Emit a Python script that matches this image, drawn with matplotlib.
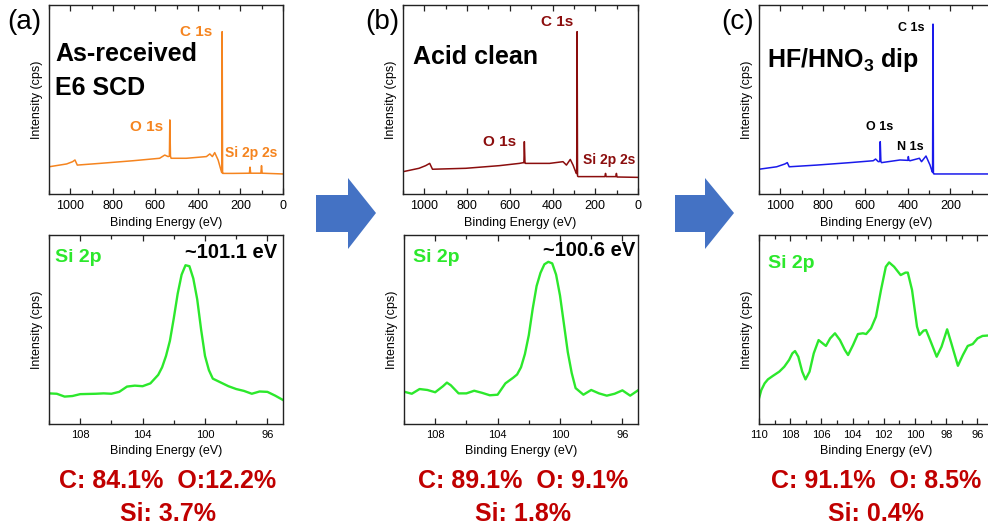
import matplotlib
matplotlib.use("Agg")
import matplotlib.pyplot as plt
from matplotlib.patches import Polygon
from matplotlib.ticker import MultipleLocator, FixedLocator

plt.rcParams['font.family'] = ['Liberation Sans', 'DejaVu Sans']
plt.rcParams['mathtext.fontset'] = 'custom'
plt.rcParams['mathtext.rm'] = 'Liberation Sans'
plt.rcParams['mathtext.bf'] = 'Liberation Sans:bold'

W, H = 988, 529

# ---------------- survey spectra (binding energy eV, normalised counts) ----------------
survey_a_be = [1100, 1017, 989, 978, 967, 861, 705, 580, 556, 540, 534, 532, 529, 526,
               454, 360, 344, 332, 321, 305, 294, 288, 286, 284, 283, 235, 158, 155, 152,
               104, 101, 98, 0]
survey_a_int = [0.144, 0.159, 0.171, 0.180, 0.153, 0.162, 0.176, 0.189, 0.206, 0.198, 0.200,
                0.392, 0.200, 0.189, 0.189, 0.198, 0.212, 0.198, 0.219, 0.180, 0.136, 0.113,
                0.859, 0.113, 0.109, 0.109, 0.110, 0.142, 0.110, 0.110, 0.150, 0.110, 0.106]

survey_b_be = [1100, 1025, 994, 975, 962, 806, 649, 555, 536, 534, 532, 529, 527, 414,
               351, 335, 317, 304, 289, 287, 285, 283, 280, 180, 155, 152, 149, 104, 101,
               98, 0]
survey_b_int = [0.118, 0.136, 0.150, 0.162, 0.131, 0.136, 0.150, 0.162, 0.166, 0.165, 0.277,
                0.165, 0.162, 0.162, 0.171, 0.153, 0.183, 0.153, 0.109, 0.108, 0.859, 0.095,
                0.092, 0.092, 0.092, 0.109, 0.092, 0.092, 0.109, 0.090, 0.088]

survey_c_be = [1100, 1017, 978, 967, 958, 829, 672, 563, 552, 539, 532, 530, 527, 524,
               437, 400, 398, 395, 390, 346, 336, 315, 296, 286, 284, 282, 280, 277, 0]
survey_c_int = [0.131, 0.144, 0.159, 0.166, 0.144, 0.153, 0.166, 0.176, 0.185, 0.171, 0.172,
                0.277, 0.172, 0.166, 0.180, 0.178, 0.198, 0.178, 0.176, 0.189, 0.171, 0.201,
                0.153, 0.118, 0.115, 0.899, 0.108, 0.106, 0.106]

# ---------------- Si 2p high-resolution spectra ----------------
si_a_be = [110, 109.5, 109, 108.5, 108, 107.5, 107, 106.5, 106, 105.5, 105, 104.5, 104,
           103.5, 103, 102.75, 102.5, 102.25, 102, 101.75, 101.5, 101.25, 101, 100.75,
           100.5, 100.25, 100, 99.75, 99.5, 99, 98.5, 98, 97.5, 97, 96.5, 96, 95.5, 95]
si_a_int = [0.162, 0.160, 0.145, 0.148, 0.158, 0.159, 0.160, 0.162, 0.160, 0.170, 0.198,
            0.203, 0.200, 0.215, 0.260, 0.300, 0.360, 0.440, 0.560, 0.690, 0.790, 0.840,
            0.835, 0.770, 0.660, 0.500, 0.360, 0.285, 0.240, 0.220, 0.200, 0.185, 0.175,
            0.160, 0.172, 0.170, 0.150, 0.127]

si_b_be = [110, 109.5, 109, 108.5, 108, 107.5, 107.25, 107, 106.5, 106, 105.5, 105, 104.5,
           104, 103.5, 103, 102.75, 102.5, 102.25, 102, 101.75, 101.5, 101.25, 101, 100.75,
           100.5, 100.25, 100, 99.75, 99.5, 99.25, 99, 98.5, 98, 97.5, 97, 96.5, 96, 95.5, 95]
si_b_int = [0.171, 0.160, 0.185, 0.180, 0.168, 0.200, 0.219, 0.205, 0.162, 0.162, 0.176,
            0.165, 0.152, 0.155, 0.215, 0.245, 0.262, 0.300, 0.370, 0.470, 0.610, 0.730,
            0.800, 0.845, 0.858, 0.850, 0.790, 0.680, 0.530, 0.380, 0.270, 0.190, 0.155,
            0.180, 0.162, 0.150, 0.160, 0.178, 0.150, 0.178]

si_c_be = [110.00, 109.85, 109.64, 109.43, 109.12, 108.70, 108.38, 108.07, 107.86, 107.69,
           107.48, 107.23, 107.02, 106.76, 106.49, 106.18, 105.97, 105.71, 105.44, 105.13,
           104.81, 104.50, 104.29, 103.97, 103.66, 103.34, 103.13, 102.82, 102.50, 102.18,
           101.87, 101.66, 101.34, 100.92, 100.61, 100.46, 100.19, 99.87, 99.71, 99.45,
           99.29, 99.03, 98.61, 98.30, 97.94, 97.67, 97.25, 96.93, 96.62, 96.30, 95.99,
           95.67, 95.00]
si_c_int = [0.136, 0.180, 0.215, 0.236, 0.254, 0.277, 0.303, 0.339, 0.374, 0.386, 0.356,
            0.277, 0.236, 0.277, 0.374, 0.444, 0.430, 0.413, 0.453, 0.480, 0.444, 0.392,
            0.365, 0.418, 0.476, 0.480, 0.476, 0.506, 0.568, 0.709, 0.832, 0.855, 0.832,
            0.788, 0.801, 0.801, 0.709, 0.515, 0.471, 0.494, 0.497, 0.444, 0.356, 0.409,
            0.501, 0.427, 0.308, 0.365, 0.413, 0.423, 0.453, 0.466, 0.470]

# ---------------- annotations ----------------
panel_tags = ["(a)", "(b)", "(c)"]
treatments = ["As-received\nE6 SCD", "Acid clean", r"HF/HNO$_\mathbf{3}$ dip"]
si_peak_labels = ["~101.1 eV", "~100.6 eV", None]
composition_line1 = ["C: 84.1%  O:12.2%", "C: 89.1%  O: 9.1%", "C: 91.1%  O: 8.5%"]
composition_line2 = ["Si: 3.7%", "Si: 1.8%", "Si: 0.4%"]
survey_ticks = [[1000, 800, 600, 400, 200, 0],
                [1000, 800, 600, 400, 200, 0],
                [1000, 800, 600, 400, 200]]

survey_colors = ["#F5841F", "#8B0D0D", "#1A1AEB"]
si_color = "#2CE82C"
comp_color = "#C00000"

fig = plt.figure(figsize=(W / 100, H / 100), dpi=100)


def rect(x0, x1, y0, y1):
    return [x0 / W, 1 - y1 / H, (x1 - x0) / W, (y1 - y0) / H]


def ftext(x, y, s, **kw):
    kw.setdefault("ha", "center")
    kw.setdefault("va", "center")
    fig.text(x / W, 1 - y / H, s, **kw)


def style(ax, major, minor, tick_fs):
    for sp in ax.spines.values():
        sp.set_linewidth(1.0)
        sp.set_color("#222222")
    ax.set_yticks([])
    if isinstance(major, list):
        ax.xaxis.set_major_locator(FixedLocator(major))
    else:
        ax.xaxis.set_major_locator(MultipleLocator(major))
    ax.xaxis.set_minor_locator(MultipleLocator(minor))
    ax.tick_params(axis="x", which="both", direction="in", top=True, bottom=True,
                   labelsize=tick_fs, pad=4, color="#222222")
    ax.tick_params(axis="x", which="major", length=4, width=0.9)
    ax.tick_params(axis="x", which="minor", length=3, width=0.9)
    ax.set_ylim(0, 1)
    ax.set_xlabel("Binding Energy (eV)", fontsize=9, labelpad=4)
    ax.set_ylabel("Intensity (cps)", fontsize=9, labelpad=4)


top_x = [(49, 283), (403, 638), (759, 993)]
bot_x = [(49, 283), (404, 638), (759, 993)]

surveys = [(survey_a_be, survey_a_int), (survey_b_be, survey_b_int), (survey_c_be, survey_c_int)]
si_sets = [(si_a_be, si_a_int), (si_b_be, si_b_int), (si_c_be, si_c_int)]

for i in range(3):
    ax = fig.add_axes(rect(top_x[i][0], top_x[i][1], 5, 194))
    be, cnt = surveys[i]
    ax.plot(be, cnt, color=survey_colors[i], lw=1.1)
    ax.set_xlim(1100, 0)
    style(ax, survey_ticks[i], 100, 9)

    ax2 = fig.add_axes(rect(bot_x[i][0], bot_x[i][1], 235, 424))
    be, cnt = si_sets[i]
    ax2.plot(be, cnt, color=si_color, lw=1.7, solid_joinstyle="round")
    ax2.set_xlim(110, 95)
    if i < 2:
        style(ax2, 4, 2, 8)
    else:
        style(ax2, 2, 1, 8)

# panel tags and treatment titles
ftext(24, 22, panel_tags[0], fontsize=20)
ftext(382, 22, panel_tags[1], fontsize=20)
ftext(738, 22, panel_tags[2], fontsize=20)

ftext(55, 54, "As-received", fontsize=18, fontweight="bold", ha="left")
ftext(55, 88, "E6 SCD", fontsize=18, fontweight="bold", ha="left")
ftext(413, 57, treatments[1], fontsize=18, fontweight="bold", ha="left")
ftext(767, 60, treatments[2], fontsize=18, fontweight="bold", ha="left")

# survey peak labels
ftext(196, 32, "C 1s", fontsize=11, fontweight="bold", color=survey_colors[0])
ftext(147, 127, "O 1s", fontsize=11, fontweight="bold", color=survey_colors[0])
ftext(251, 153, "Si 2p 2s", fontsize=10, fontweight="bold", color=survey_colors[0])

ftext(557, 22, "C 1s", fontsize=11, fontweight="bold", color=survey_colors[1])
ftext(500, 142, "O 1s", fontsize=11, fontweight="bold", color=survey_colors[1])
ftext(609, 160, "Si 2p 2s", fontsize=10, fontweight="bold", color=survey_colors[1])

ftext(911, 28, "C 1s", fontsize=9, fontweight="bold", color="black")
ftext(880, 127, "O 1s", fontsize=9, fontweight="bold", color="black")
ftext(910, 147, "N 1s", fontsize=9, fontweight="bold", color="black")

# Si 2p labels
for x0, y0 in [(55, 257), (413, 257), (768, 263)]:
    ftext(x0, y0, "Si 2p", fontsize=14, fontweight="bold", color=si_color, ha="left")
ftext(277, 253, si_peak_labels[0], fontsize=14.5, fontweight="bold", ha="right")
ftext(635, 251, si_peak_labels[1], fontsize=14.5, fontweight="bold", ha="right")

# composition
for cx, l1, l2 in zip([168, 523, 876], composition_line1, composition_line2):
    ftext(cx, 481, l1, fontsize=18, fontweight="bold", color=comp_color)
    ftext(cx, 514, l2, fontsize=18, fontweight="bold", color=comp_color)

# process arrows
def arrow(x0, xb, xt, yb0, yb1, yh0, yh1, yt):
    pts = [(x0, yb0), (xb, yb0), (xb, yh0), (xt, yt), (xb, yh1), (xb, yb1), (x0, yb1)]
    pts = [(x / W, 1 - y / H) for x, y in pts]
    fig.patches.append(Polygon(pts, closed=True, transform=fig.transFigure,
                               facecolor="#4472C4", edgecolor="none"))

arrow(316, 348, 376, 195, 232, 178, 249, 213)
arrow(675, 705, 734, 195, 232, 178, 249, 213)

fig.savefig("out.png", dpi=100)
